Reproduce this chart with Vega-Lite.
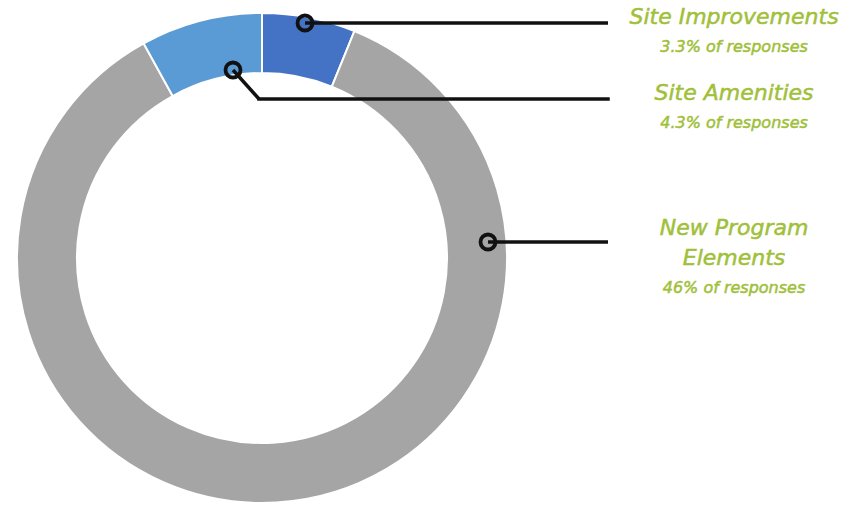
{
  "$schema": "https://vega.github.io/schema/vega-lite/v6.json",
  "width": 848,
  "height": 507,
  "autosize": "none",
  "padding": 0,
  "background": "white",
  "config": {"view": {"stroke": null}, "text": {"font": "DejaVu Sans", "fontStyle": "oblique", "fontWeight": "normal", "fill": "#A0C03A", "stroke": "#A0C03A", "strokeWidth": 0.5, "align": "center", "baseline": "alphabetic"}},
  "encoding": {
    "x": {"type": "quantitative", "scale": {"domain": [0, 848], "nice": false, "zero": false}, "axis": null},
    "y": {"type": "quantitative", "scale": {"domain": [0, 507], "nice": false, "zero": false, "reverse": true}, "axis": null}
  },
  "layer": [
    {
      "data": {"values": [
        {"category": "Site Improvements", "pct": 3.3, "order": 1},
        {"category": "New Program Elements", "pct": 46, "order": 2},
        {"category": "Site Amenities", "pct": 4.3, "order": 3}
      ]},
      "mark": {"type": "arc", "outerRadius": 245, "innerRadius": 185, "stroke": "white", "strokeWidth": 2},
      "encoding": {
        "x": {"datum": 262, "type": "quantitative"},
        "y": {"datum": 258, "type": "quantitative"},
        "theta": {"field": "pct", "type": "quantitative", "stack": true},
        "order": {"field": "order", "type": "quantitative"},
        "color": {"field": "category", "type": "nominal", "legend": null,
          "scale": {"domain": ["Site Improvements", "New Program Elements", "Site Amenities"], "range": ["#4472C4", "#A5A5A5", "#5B9BD5"]}}
      }
    },
    {"data": {"values": [{}]}, "mark": {"type": "rule", "stroke": "#111", "strokeWidth": 3.5},
      "encoding": {"x": {"datum": 305}, "y": {"datum": 23}, "x2": {"datum": 608}, "y2": {"datum": 23}}},
    {"data": {"values": [{}]}, "mark": {"type": "rule", "stroke": "#111", "strokeWidth": 3.5},
      "encoding": {"x": {"datum": 233}, "y": {"datum": 70}, "x2": {"datum": 259}, "y2": {"datum": 99}}},
    {"data": {"values": [{}]}, "mark": {"type": "rule", "stroke": "#111", "strokeWidth": 3.5, "strokeCap": "square"},
      "encoding": {"x": {"datum": 259}, "y": {"datum": 99}, "x2": {"datum": 608}, "y2": {"datum": 99}}},
    {"data": {"values": [{}]}, "mark": {"type": "rule", "stroke": "#111", "strokeWidth": 3.5},
      "encoding": {"x": {"datum": 488}, "y": {"datum": 242}, "x2": {"datum": 608}, "y2": {"datum": 242}}},
    {"data": {"values": [{}]}, "mark": {"type": "point", "shape": "circle", "filled": false, "size": 225, "stroke": "#111", "strokeWidth": 3.8, "opacity": 1},
      "encoding": {"x": {"datum": 305}, "y": {"datum": 23}}},
    {"data": {"values": [{}]}, "mark": {"type": "point", "shape": "circle", "filled": false, "size": 225, "stroke": "#111", "strokeWidth": 3.8, "opacity": 1},
      "encoding": {"x": {"datum": 233}, "y": {"datum": 70}}},
    {"data": {"values": [{}]}, "mark": {"type": "point", "shape": "circle", "filled": false, "size": 225, "stroke": "#111", "strokeWidth": 3.8, "opacity": 1},
      "encoding": {"x": {"datum": 488}, "y": {"datum": 242}}},
    {"data": {"values": [{"t": "Site Improvements"}]},
      "mark": {"type": "text", "fontSize": 22},
      "encoding": {"text": {"field": "t"}, "x": {"datum": 734}, "y": {"datum": 24}}},
    {"data": {"values": [{"t": "3.3% of responses"}]},
      "mark": {"type": "text", "fontSize": 16},
      "encoding": {"text": {"field": "t"}, "x": {"datum": 734}, "y": {"datum": 52}}},
    {"data": {"values": [{"t": "Site Amenities"}]},
      "mark": {"type": "text", "fontSize": 22},
      "encoding": {"text": {"field": "t"}, "x": {"datum": 734}, "y": {"datum": 100}}},
    {"data": {"values": [{"t": "4.3% of responses"}]},
      "mark": {"type": "text", "fontSize": 16},
      "encoding": {"text": {"field": "t"}, "x": {"datum": 734}, "y": {"datum": 128}}},
    {"data": {"values": [{"t": "New Program"}]},
      "mark": {"type": "text", "fontSize": 22},
      "encoding": {"text": {"field": "t"}, "x": {"datum": 734}, "y": {"datum": 235}}},
    {"data": {"values": [{"t": "Elements"}]},
      "mark": {"type": "text", "fontSize": 22},
      "encoding": {"text": {"field": "t"}, "x": {"datum": 734}, "y": {"datum": 265}}},
    {"data": {"values": [{"t": "46% of responses"}]},
      "mark": {"type": "text", "fontSize": 16},
      "encoding": {"text": {"field": "t"}, "x": {"datum": 734}, "y": {"datum": 293}}}
  ]
}
